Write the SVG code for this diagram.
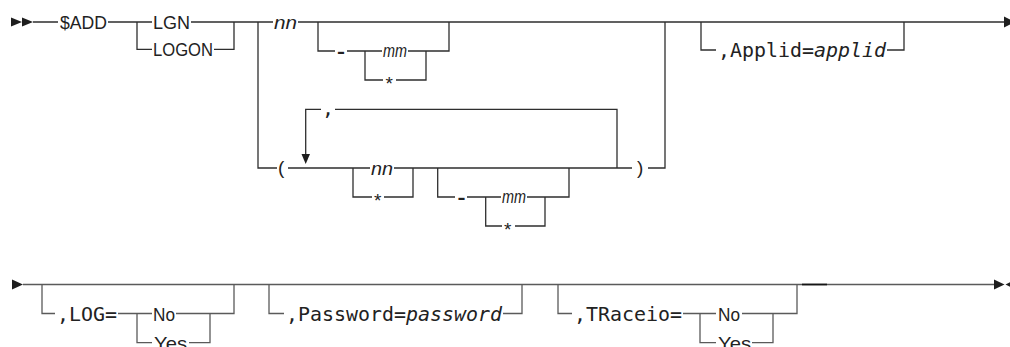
<svg xmlns="http://www.w3.org/2000/svg" width="1010" height="347" viewBox="0 0 1010 347">
<style>
.bg{fill:#ffffff}
.ln{fill:none;stroke:#2e2e2e;stroke-width:1.3}
.ln2{fill:none;stroke:#5a5a5a;stroke-width:1.3}
.ah{fill:#1e1e1e}
.t{font-family:"Liberation Sans",Arial,sans-serif;font-size:19px;fill:#222}
.d{font-family:"Liberation Sans",Arial,sans-serif;font-size:19px;font-weight:bold;fill:#222}
.ti{font-family:"Liberation Sans",Arial,sans-serif;font-size:19px;font-style:italic;fill:#222}
.m{font-family:"DejaVu Sans Mono","Liberation Mono",monospace;font-size:20px;fill:#222}
.mi{font-style:italic}
</style>
<rect class="bg" x="0" y="0" width="1010" height="347"/>
<g id="connectors">
  <path class="ln" d="M33,22 H58 M108,22 H152 M191,22 H273 M298,22 H1004"/>
  <path class="ln" d="M137,22 V49.3 H152 M214,49.3 H234 V22"/>
  <path class="ln" d="M258,22 V168 H277 M288,168 H370 M394,168 H632 M648,168 H665 V22"/>
  <path class="ln" d="M318,22 V51 H335 M347,51 H382 M408,51 H449 V22"/>
  <path class="ln" d="M365,51 V80 H383 M396,80 H426 V51"/>
  <path class="ln" d="M617,168 V109.3 H335 M321,109.3 H305.7 V156"/>
  <polygon class="ah" points="301.5,154 310,154 305.7,164"/>
  <path class="ln" d="M353,168 V197 H372 M384,197 H413 V168"/>
  <path class="ln" d="M437.7,168 V197 H455 M467,197 H501 M527,197 H569 V168"/>
  <path class="ln" d="M485.7,197 V226 H502 M515,226 H545 V197"/>
  <path class="ln" d="M701,22 V50 H716 M887,50 H904 V22"/>
  <path class="ln2" d="M23,284.5 H994"/>
  <path fill="none" stroke="#151515" stroke-width="1.7" d="M802,284.5 H827"/>
  <path class="ln2" d="M42,284.5 V313.5 H55 M118,313.5 H152 M176,313.5 H234 V284.5"/>
  <path class="ln2" d="M137,313.5 V342.7 H152 M189,342.7 H210 V313.5"/>
  <path class="ln2" d="M269,284.5 V313.5 H284 M503,313.5 H522 V284.5"/>
  <path class="ln2" d="M558,284.5 V313.5 H572 M683,313.5 H716 M742,313.5 H797 V284.5"/>
  <path class="ln2" d="M700,313.5 V342.7 H716 M752,342.7 H773 V313.5"/>
</g>
<g id="start1">
  <polygon class="ah" points="11,17.5 22,22 11,26.5"/>
  <polygon class="ah" points="22,17.5 33,22 22,26.5"/>
</g>
<g id="end1"><polygon class="ah" points="1004,16.5 1015,22 1004,27.5"/></g>
<g id="start2"><polygon class="ah" points="12,279.5 23,284.5 12,289.5"/></g>
<g id="end2">
  <polygon class="ah" points="994,279.5 1004.5,284.5 994,289.5"/>
  <polygon class="ah" points="1016,279.5 1005.5,284.5 1016,289.5"/>
</g>
<g id="add"><text class="t" x="60" y="29" textLength="47" lengthAdjust="spacingAndGlyphs">$ADD</text></g>
<g id="lgn"><text class="t" x="153" y="29" textLength="37" lengthAdjust="spacingAndGlyphs">LGN</text></g>
<g id="logon"><text class="t" x="153" y="56.3" textLength="60" lengthAdjust="spacingAndGlyphs">LOGON</text></g>
<g id="nn1"><text class="ti" x="274" y="28.5" textLength="23" lengthAdjust="spacingAndGlyphs">nn</text></g>
<g id="dash1"><text class="d" x="337" y="57.5" textLength="8" lengthAdjust="spacingAndGlyphs">-</text></g>
<g id="mm1"><text class="ti" x="383" y="57" textLength="24" lengthAdjust="spacingAndGlyphs">mm</text></g>
<g id="star1"><text class="t" x="385.5" y="90">*</text></g>
<g id="lparen"><text class="t" x="278" y="174">(</text></g>
<g id="comma"><text class="m" x="322" y="115">,</text></g>
<g id="nn2"><text class="ti" x="371" y="174.5" textLength="22" lengthAdjust="spacingAndGlyphs">nn</text></g>
<g id="star2"><text class="t" x="374" y="207">*</text></g>
<g id="dash2"><text class="d" x="457.5" y="203.5" textLength="8" lengthAdjust="spacingAndGlyphs">-</text></g>
<g id="mm2"><text class="ti" x="502" y="203" textLength="24" lengthAdjust="spacingAndGlyphs">mm</text></g>
<g id="star3"><text class="t" x="504" y="236">*</text></g>
<g id="rparen"><text class="t" x="637" y="174">)</text></g>
<g id="applid"><text class="m" x="718" y="57.3" textLength="168" lengthAdjust="spacingAndGlyphs">,Applid=<tspan class="mi">applid</tspan></text></g>
<g id="log"><text class="m" x="57" y="320.8" textLength="60" lengthAdjust="spacingAndGlyphs">,LOG=</text></g>
<g id="log-no"><text class="t" x="153" y="320.5" textLength="22" lengthAdjust="spacingAndGlyphs">No</text></g>
<g id="log-yes"><text class="t" x="154" y="349.7" textLength="33" lengthAdjust="spacingAndGlyphs">Yes</text></g>
<g id="password"><text class="m" x="286" y="320.8" textLength="216" lengthAdjust="spacingAndGlyphs">,Password=<tspan class="mi">password</tspan></text></g>
<g id="traceio"><text class="m" x="574" y="320.8" textLength="108" lengthAdjust="spacingAndGlyphs">,TRaceio=</text></g>
<g id="tr-no"><text class="t" x="718" y="320.5" textLength="22" lengthAdjust="spacingAndGlyphs">No</text></g>
<g id="tr-yes"><text class="t" x="718" y="349.7" textLength="33" lengthAdjust="spacingAndGlyphs">Yes</text></g>
</svg>
